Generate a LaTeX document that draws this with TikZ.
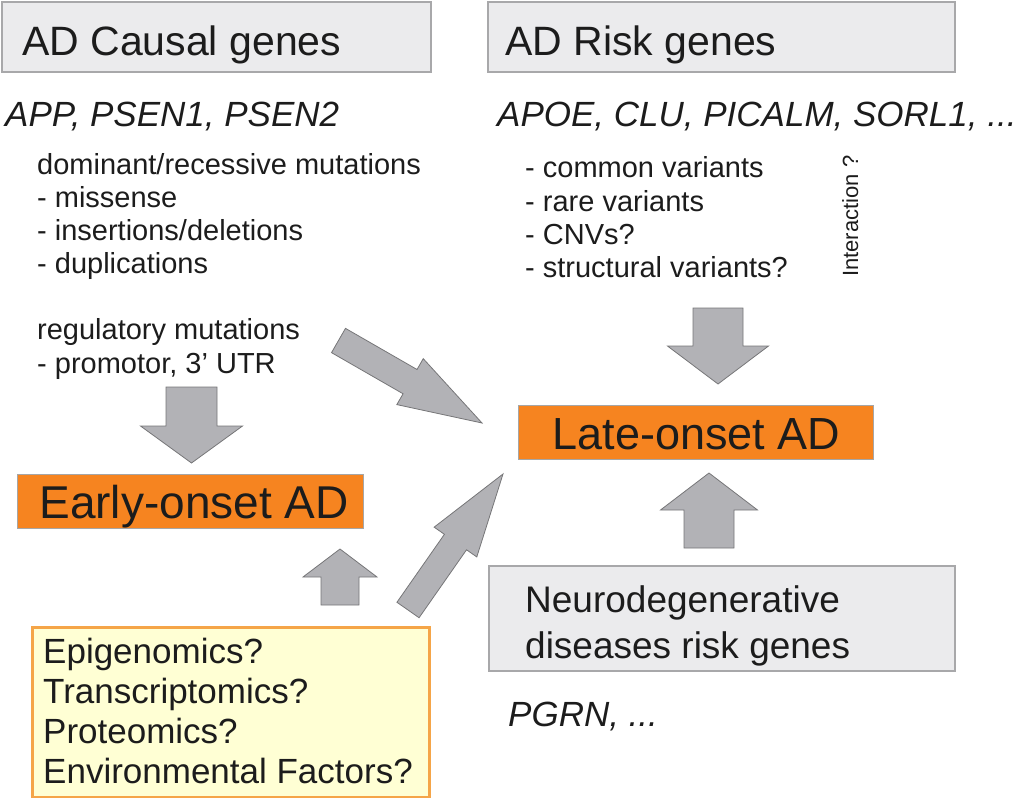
\documentclass[tikz,border=0pt]{standalone}
\usepackage{fontspec}
\setmainfont{Liberation Sans}
\usepackage{tikz}
\usetikzlibrary{positioning, calc}
\definecolor{corCaixa}{RGB}{235, 235, 237}
\definecolor{corBorda}{RGB}{168, 168, 170}
\definecolor{corLaranja}{RGB}{246, 132, 32}
\definecolor{corAmarelo}{RGB}{255, 255, 212}
\definecolor{corBordaAmarela}{RGB}{245, 165, 72}
\definecolor{corSeta}{RGB}{178, 178, 182}
\definecolor{corSetaBorda}{RGB}{118, 118, 120}
\definecolor{corTexto}{RGB}{28, 28, 28}

% block arrow: tail, tip, half shaft, half head, head length
\newcommand{\blocoSeta}[5]{%
    \coordinate (h) at ($(#2)!#5!(#1)$);
    \draw[seta] ($(#1)!#3!90:(#2)$) -- ($(h)!#3!90:(#2)$) -- ($(h)!#4!90:(#2)$)
        -- (#2) -- ($(h)!#4!-90:(#2)$) -- ($(h)!#3!-90:(#2)$) -- ($(#1)!#3!-90:(#2)$) -- cycle;
}

\begin{document}
\begin{tikzpicture}[
    x=1pt, y=-1pt,
    caixa/.style={
        draw=corBorda, line width=2.5pt, fill=corCaixa,
        inner sep=0pt
    },
    laranja/.style={draw=gray!70, line width=0.8pt, fill=corLaranja, inner sep=0pt},
    amarela/.style={draw=corBordaAmarela, line width=3pt, fill=corAmarelo, inner sep=0pt},
    seta/.style={fill=corSeta, draw=corSetaBorda, line width=0.8pt, line join=miter},
    txt/.style={anchor=base west, inner sep=0pt, text=corTexto},
    titulo/.style={txt, font=\fontsize{41}{49}\selectfont},
    genes/.style={txt, font=\fontsize{35}{42}\selectfont\itshape},
    lista/.style={txt, font=\fontsize{29}{33}\selectfont},
    fatores/.style={txt, font=\fontsize{35}{40}\selectfont}
]
\useasboundingbox (0,0) rectangle (1023,798);

% boxes
\node[caixa, minimum width=429pt, minimum height=70pt] (causal) at (216.5,37) {};
\node[caixa, minimum width=467pt, minimum height=70pt] (risk) at (721.5,37) {};
\node[laranja, minimum width=346pt, minimum height=54pt] (early) at (190,501) {};
\node[laranja, minimum width=355pt, minimum height=54pt] (late) at (695.5,432) {};
\node[caixa, minimum width=466pt, minimum height=105pt] (neuro) at (722,618.5) {};
\node[amarela, minimum width=397pt, minimum height=170pt] (omics) at (230.5,712) {};

% titles
\node[titulo] (causalT) at (22,55) {AD Causal genes};
\node[titulo] (riskT) at (505,55) {AD Risk genes};
\node[txt, anchor=base, font=\fontsize{46}{52}\selectfont] (earlyT) at (194,518) {Early-onset AD};
\node[txt, anchor=base, font=\fontsize{45}{52}\selectfont] (lateT) at (696.5,449) {Late-onset AD};
\node[txt, font=\fontsize{37}{46}\selectfont] (neuroT1) at (525,612) {Neurodegenerative};
\node[txt, font=\fontsize{37}{46}\selectfont] (neuroT2) at (525,658) {diseases risk genes};

% gene lists
\node[genes] (causalG) at (5,126) {APP, PSEN1, PSEN2};
\node[genes] (riskG) at (497,126) {APOE, CLU, PICALM, SORL1, ...};
\node[genes] (neuroG) at (508,726) {PGRN, ...};

% mutation types
\node[lista] (m1) at (37,174) {dominant/recessive mutations};
\node[lista] (m2) at (37,207) {- missense};
\node[lista] (m3) at (37,240) {- insertions/deletions};
\node[lista] (m4) at (37,273) {- duplications};
\node[lista] (m5) at (37,339) {regulatory mutations};
\node[lista] (m6) at (37,373) {- promotor, 3’ UTR};

% variant types
\node[lista] (v1) at (525,177) {- common variants};
\node[lista] (v2) at (525,211) {- rare variants};
\node[lista] (v3) at (525,244) {- CNVs?};
\node[lista] (v4) at (525,277) {- structural variants?};
\node[txt, rotate=90, font=\fontsize{22}{26}\selectfont] (inter) at (858,277) {Interaction ?};

% other factors
\node[fatores] (f1) at (43,663) {Epigenomics?};
\node[fatores] (f2) at (43,703) {Transcriptomics?};
\node[fatores] (f3) at (43,743) {Proteomics?};
\node[fatores] (f4) at (43,783) {Environmental Factors?};

% arrow ends
\coordinate (a1a) at (191.5,387); \coordinate (a1b) at (191.5,463);
\coordinate (a2a) at (718,308);   \coordinate (a2b) at (718,384);
\coordinate (a3a) at (340,605);   \coordinate (a3b) at (340,549);
\coordinate (a4a) at (709,548);   \coordinate (a4b) at (709,473);
\coordinate (a5a) at (338.5,340.5); \coordinate (a5b) at (482,423);
\coordinate (a6a) at (408,610);   \coordinate (a6b) at (503,474);

\blocoSeta{a1a}{a1b}{25.5pt}{51pt}{37pt}
\blocoSeta{a2a}{a2b}{25pt}{50.5pt}{38pt}
\blocoSeta{a3a}{a3b}{19pt}{37pt}{28pt}
\blocoSeta{a4a}{a4b}{25pt}{48.5pt}{37pt}
\blocoSeta{a5a}{a5b}{14pt}{26.5pt}{83pt}
\blocoSeta{a6a}{a6b}{13.5pt}{26pt}{83pt}

\end{tikzpicture}
\end{document}
